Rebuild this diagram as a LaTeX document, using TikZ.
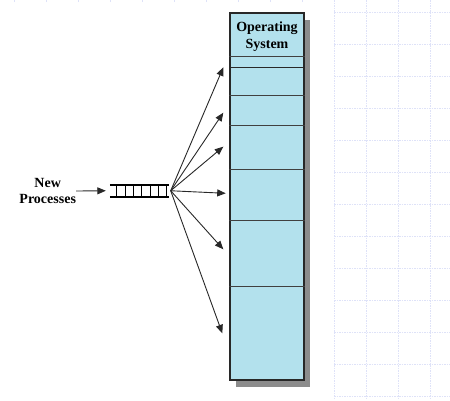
\documentclass[tikz,border=0pt]{standalone}
\usepackage{fontspec}
\setmainfont{Liberation Serif}
\usepackage{xcolor}
\usetikzlibrary{arrows.meta,positioning,shadows}

\definecolor{memblue}{RGB}{179,225,237}
\definecolor{gridblue}{RGB}{222,226,248}
\definecolor{edgegray}{RGB}{40,40,40}

\begin{document}
\begin{tikzpicture}[
    x=1pt, y=-1pt,
    label/.style={align=center, inner sep=0pt, font=\fontsize{14}{16.6}\selectfont\bfseries},
    memory/.style={draw=edgegray, line width=1.8pt, fill=memblue, rectangle, inner sep=0pt,
                   minimum width=74pt, minimum height=367.6pt,
                   drop shadow={shadow xshift=6pt, shadow yshift=-7pt, fill=black!45, opacity=1}},
    divider/.style={draw=black!75, line width=0.9pt},
    queueline/.style={line width=1.8pt, black},
    arrow/.style={-{Triangle[length=8.5pt, width=7pt]}, line width=0.9pt, draw=edgegray}
]
    \useasboundingbox (0,0) rectangle (450,400);

    % Background grid, mostly hidden behind the page
    \foreach \gx in {14,46,...,430}
        \draw[gridblue, line width=0.8pt, dash pattern=on 1.5pt off 1pt] (\gx,0) -- (\gx,400);
    \foreach \gy in {12.3,44.3,...,400}
        \draw[gridblue, line width=0.8pt, dash pattern=on 1.5pt off 1pt] (334,\gy) -- (450,\gy);
    \fill[white] (0,2.5) rectangle (333,400);

    % Main memory with its partitions
    \node[memory] (mem) at (267, 196.5) {};
    \node[label] (os) at (267, 36.8) {Operating\\System};
    \foreach \dy in {56, 95.3, 125, 169.3, 220.7, 286.7}
        \draw[divider] (mem.west |- 0,\dy) -- (mem.east |- 0,\dy);
    \draw[divider, line width=1.5pt, draw=edgegray] (mem.west |- 0,67.7) -- (mem.east |- 0,67.7);

    % Queue of new processes
    \node[label] (newp) at (47.7, 191) {New\\Processes};
    \node[minimum width=59pt, minimum height=11.5pt, inner sep=0pt] (queue) at (139.5, 190.75) {};
    \draw[queueline] (queue.north west) -- (queue.north east);
    \draw[queueline] (queue.south west) -- (queue.south east);
    \foreach \bx in {116.7, 125, 133.3, 141.7, 150, 158.3, 166.7}
        \draw[line width=1pt] (\bx,185) -- (\bx,196.5);

    \draw[arrow] (newp.east) -- ([xshift=-4pt]queue.west);

    % Targets beside the partitions
    \coordinate (t1) at (223.3, 67.3);
    \coordinate (t2) at (223.3, 112.7);
    \coordinate (t3) at (223.3, 146.7);
    \coordinate (t4) at (225.7, 193.3);
    \coordinate (t5) at (223.3, 249.3);
    \coordinate (t6) at (222.3, 333.3);

    % Arrows
    \foreach \t in {t1,t2,t3,t4,t5,t6}
        \draw[arrow] ([xshift=1.5pt]queue.east) -- (\t);
\end{tikzpicture}
\end{document}
